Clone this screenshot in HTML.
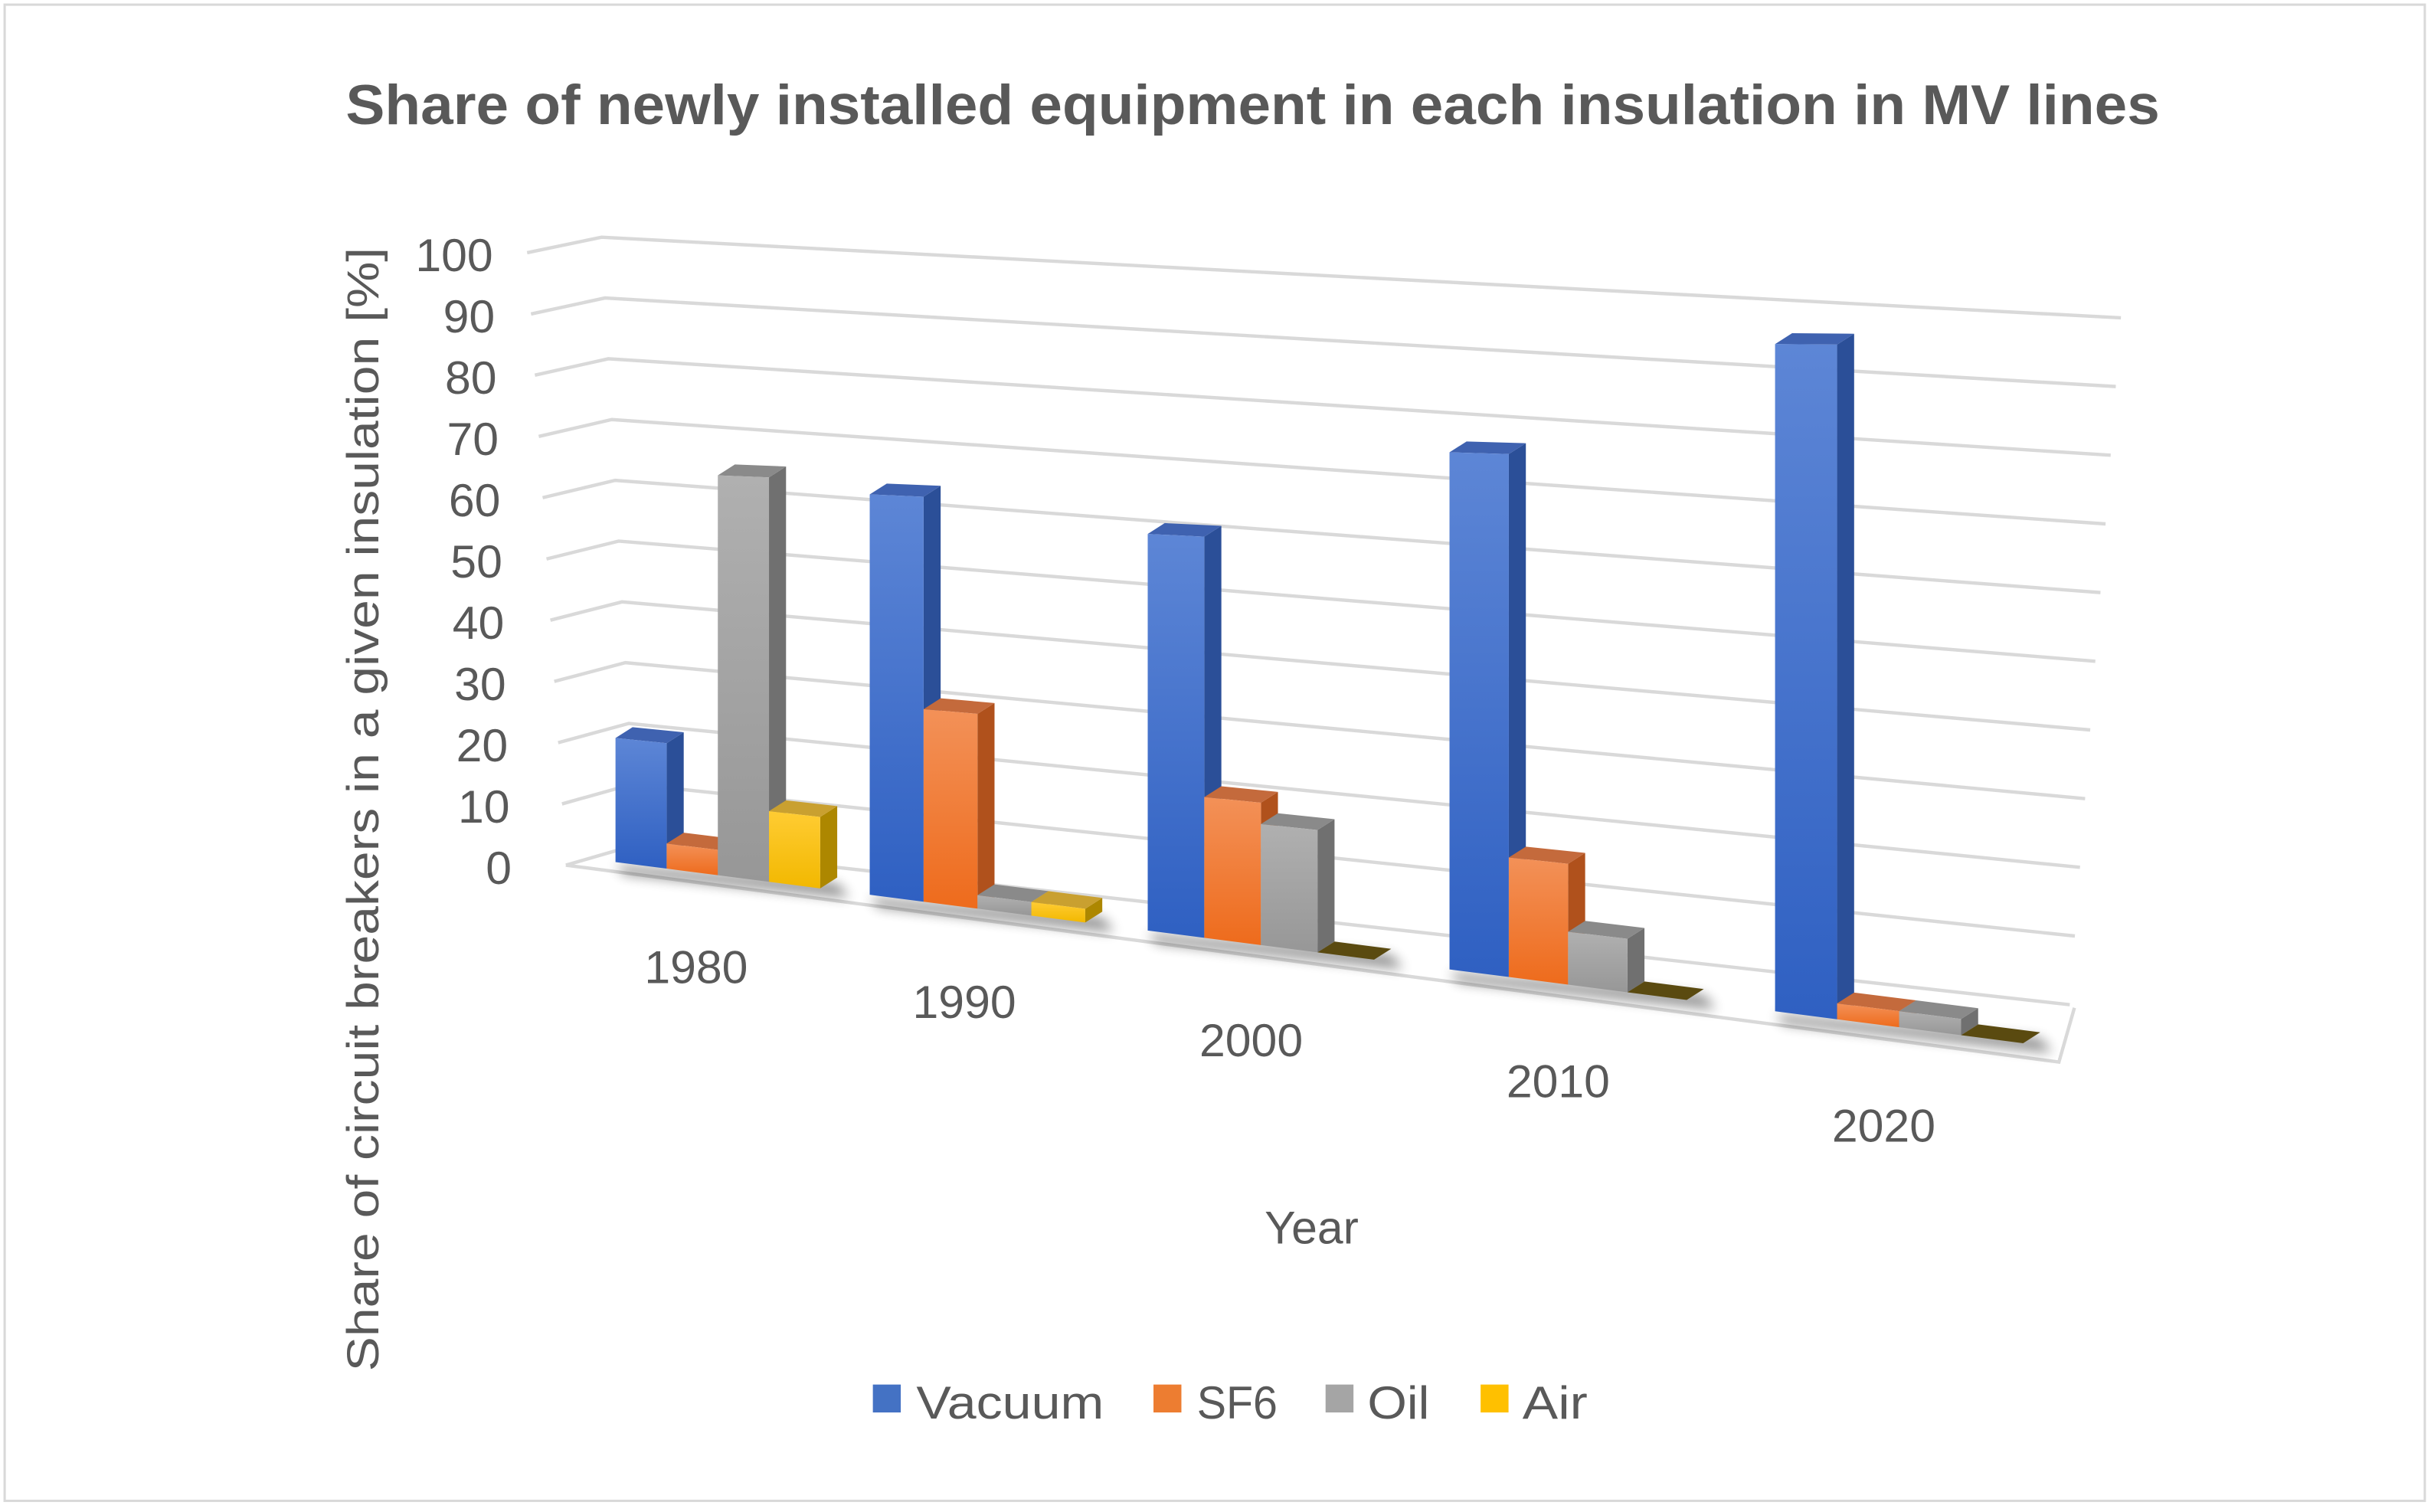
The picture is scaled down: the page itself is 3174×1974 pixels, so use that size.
<!DOCTYPE html>
<html><head><meta charset="utf-8"><style>
html,body{margin:0;padding:0;background:#fff}
svg{display:block}
text{font-family:"Liberation Sans",sans-serif;fill:#595959}
</style></head><body>
<svg id="c" width="3174" height="1974" viewBox="0 0 1568 975.2" preserveAspectRatio="none" xmlns="http://www.w3.org/2000/svg">
<defs>
<linearGradient id="gV" x1="0" y1="0" x2="0" y2="1"><stop offset="0" stop-color="#5d86d6"/><stop offset="1" stop-color="#2f60c2"/></linearGradient>
<linearGradient id="gS" x1="0" y1="0" x2="0" y2="1"><stop offset="0" stop-color="#f39158"/><stop offset="1" stop-color="#ee6b1c"/></linearGradient>
<linearGradient id="gO" x1="0" y1="0" x2="0" y2="1"><stop offset="0" stop-color="#b0b0b0"/><stop offset="1" stop-color="#979797"/></linearGradient>
<linearGradient id="gA" x1="0" y1="0" x2="0" y2="1"><stop offset="0" stop-color="#ffcc33"/><stop offset="1" stop-color="#f2b800"/></linearGradient>
<filter id="sh" x="-20%" y="-200%" width="140%" height="500%"><feGaussianBlur stdDeviation="4"/></filter>
</defs>
<rect x="3" y="3" width="1561" height="965" fill="#fff" stroke="#d9d9d9" stroke-width="1.5"/>
<text x="808" y="80" text-anchor="middle" font-size="36" font-weight="bold" textLength="1170" lengthAdjust="spacingAndGlyphs">Share of newly installed equipment in each insulation in MV lines</text>
<g id="grid"></g>
<g id="floor"></g>
<g id="bars"></g>
<g id="labels"></g>
<text transform="translate(244,522) rotate(-90)" text-anchor="middle" font-size="29" textLength="725" lengthAdjust="spacingAndGlyphs">Share of circuit breakers in a given insulation [%]</text>
<text x="846" y="802" text-anchor="middle" font-size="30">Year</text>
<g>
<rect x="563" y="893" width="18" height="18" fill="#4472c4"/>
<text x="591" y="915" font-size="30" textLength="121" lengthAdjust="spacingAndGlyphs">Vacuum</text>
<rect x="744" y="893" width="18" height="18" fill="#ed7d31"/>
<text x="772" y="915" font-size="30" textLength="52" lengthAdjust="spacingAndGlyphs">SF6</text>
<rect x="855" y="893" width="18" height="18" fill="#a5a5a5"/>
<text x="882" y="915" font-size="30" textLength="40" lengthAdjust="spacingAndGlyphs">Oil</text>
<rect x="955" y="893" width="18" height="18" fill="#ffc000"/>
<text x="982" y="915" font-size="30" textLength="42" lengthAdjust="spacingAndGlyphs">Air</text>
</g>
</svg>
<script>
const categories = ["1980","1990","2000","2010","2020"];
const vacuum = [20, 61, 57, 70, 85];
const sf6 = [4, 29, 20, 16, 2];
const oil = [63, 2, 17, 7, 2];
const air = [11, 2, 0, 0, 0];
const yTicks = [0,10,20,30,40,50,60,70,80,90,100];
const seriesNames = ["vacuum","sf6","oil","air"];

const NS = "http://www.w3.org/2000/svg";
function mk(tag, attrs, parent){const e=document.createElementNS(NS,tag);for(const k in attrs)e.setAttribute(k,attrs[k]);parent.appendChild(e);return e;}
const grid=document.getElementById('grid'), floorG=document.getElementById('floor'), barsG=document.getElementById('bars'), labG=document.getElementById('labels');

function gl(v){const t=1-v/100;return {fx:340+25*t, fy:163+395*t, bx:388+22*t, by:153+392*t, rx:1368-33*t, ry:205+443*t};}
yTicks.forEach(v=>{
  const g=gl(v);
  const p=mk('polyline',{points:`${g.fx},${g.fy} ${g.bx},${g.by} ${g.rx},${g.ry}`,fill:'none',stroke:'#d9d9d9','stroke-width':2.2},grid);
  
  
  const t=1-v/100;
  const tx=mk('text',{x:318+12*t,y:g.fy+12,'text-anchor':'end','font-size':30},labG);
  tx.textContent=v;
  
  
});
const fe=mk('polyline',{points:`365,558 1328,685 1338,650`,fill:'none',stroke:'#d9d9d9','stroke-width':2.2},floorG);



function catX(i){return 397+156.3*i+7.67*i*i;}
function baseY(x){return 556+(x-397)*0.1287;}
function k(x){return 4.0+(x-397)*(1.06/746);}
function barW(i){return 33+i*1.75;}

const colors=[
 {f:'url(#gV)',s:'#2b4f98',t:'#3f62b0'},
 {f:'url(#gS)',s:'#b0511c',t:'#c46a3c'},
 {f:'url(#gO)',s:'#707070',t:'#8a8a8a'},
 {f:'url(#gA)',s:'#ad8700',t:'#c9a030'}];
const all=[vacuum,sf6,oil,air];
const DX=11, DY=-7;

categories.forEach((c,i)=>{
  const w=barW(i);
  const x0=catX(i);
  const sx=x0, ex=x0+4*w;
  const sh=mk('polygon',{points:`${sx},${baseY(sx)+2} ${ex+DX},${baseY(ex)+DY+4} ${ex+DX+8},${baseY(ex)+6} ${sx+6},${baseY(sx)+8}`,fill:'#000',opacity:0.45,filter:'url(#sh)'},barsG);
  
  
  all.forEach((arr,j)=>{
    const x=x0+j*w, y0=baseY(x), h=arr[i]*k(x), y1=y0-h;
    const y0r=baseY(x+w);
    const y1r=y0r-arr[i]*k(x+w);
    const g=mk('g',{},barsG);
    
    
    if(arr[i]<=0){
      mk('polygon',{points:`${x},${y0} ${x+DX},${y0+DY} ${x+w+DX},${y0r+DY} ${x+w},${y0r}`,fill:'#5a4a10'},g);
      return;
    }
    mk('polygon',{points:`${x+w},${y1r} ${x+w+DX},${y1r+DY} ${x+w+DX},${y0r+DY} ${x+w},${y0r}`,fill:colors[j].s},g);
    mk('polygon',{points:`${x},${y1} ${x+DX},${y1+DY} ${x+w+DX},${y1r+DY} ${x+w},${y1r}`,fill:colors[j].t},g);
    mk('polygon',{points:`${x},${y1} ${x+w},${y1r} ${x+w},${y0r} ${x},${y0}`,fill:colors[j].f},g);
  });
  const lx=[449,622,807,1005,1215][i];
  const t=mk('text',{x:lx,y:baseY(x0)+78+i*1.5,'text-anchor':'middle','font-size':30},labG);
  t.textContent=c;
  
  
});
</script>
</body></html>
